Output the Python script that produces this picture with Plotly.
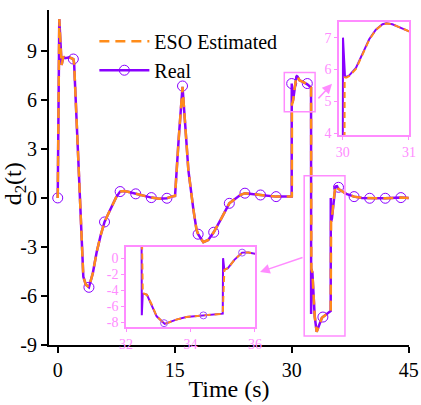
import plotly.graph_objects as go

# ---------------- data ----------------
t_real = [0.0, 0.2, 0.5, 0.72, 0.95, 1.5, 2.0, 2.1, 2.64, 3.28, 3.6, 3.92, 4.0, 4.5, 5.0, 5.5,
          6.0, 6.5, 7.0, 7.5, 8.0, 8.5, 9.0, 10.0, 11.0, 12.0, 13.0, 14.0, 14.6, 15.04, 15.5,
          16.0, 16.3, 16.75, 17.4, 17.8, 18.0, 18.67, 19.3, 20.0, 21.0, 22.0, 23.4, 24.0, 26.0,
          28.0, 30.0, 30.005, 30.035, 30.06, 30.1, 30.2, 30.3, 30.4, 30.5, 30.6, 30.66, 30.75,
          30.85, 31.0, 31.5, 32.0, 32.48, 32.49, 32.52, 32.65, 32.8, 32.95, 33.2, 33.56, 33.87,
          34.0, 34.4, 35.0, 35.01, 35.05, 35.16, 35.36, 35.6, 35.8, 36.0, 37.0, 38.0, 39.0,
          40.0, 42.0, 44.0, 45.0]
d_real = [0.0, 10.94, 8.14, 8.65, 8.55, 8.6, 8.5, 8.25, 2.33, -4.82, -5.3, -5.43, -5.47, -4.6,
          -3.3, -2.3, -1.47, -0.95, -0.45, 0.05, 0.39, 0.42, 0.38, 0.25, 0.12, 0.02, -0.05,
          -0.02, 0.08, 0.12, 3.55, 6.8, 4.78, 1.7, -0.73, -1.96, -2.22, -2.71, -2.57, -2.1,
          -1.24, -0.33, 0.18, 0.29, 0.18, 0.08, 0.08, 7.0, 5.8, 5.77, 5.82, 6.05, 6.5, 6.95,
          7.25, 7.42, 7.45, 7.42, 7.33, 7.2, 7.08, 6.95, 6.75, -7.1, -4.35, -4.56, -5.8, -7.25,
          -8.2, -7.66, -7.33, -7.29, -7.13, -6.92, 0.0, -1.45, -1.24, -0.2, 0.7, 0.72, 0.55,
          0.25, 0.08, 0.0, -0.02, -0.02, 0.02, 0.0]

t_est = [0.0, 0.2, 0.5, 0.72, 0.95, 1.5, 2.0, 2.1, 2.64, 3.28, 3.6, 3.92, 4.0, 4.5, 5.0, 5.5,
         6.0, 6.5, 7.0, 7.5, 8.0, 8.5, 9.0, 10.0, 11.0, 12.0, 13.0, 14.0, 14.6, 15.04, 15.5,
         16.0, 16.3, 16.75, 17.4, 17.8, 18.0, 18.67, 19.3, 20.0, 21.0, 22.0, 23.4, 24.0, 26.0,
         28.0, 30.0, 30.025, 30.03, 30.06, 30.1, 30.2, 30.3, 30.4, 30.5, 30.6, 30.66, 30.75,
         30.85, 31.0, 31.5, 32.0, 32.48, 32.52, 32.65, 32.8, 32.95, 33.2, 33.56, 33.87,
         34.0, 34.4, 35.0, 35.05, 35.16, 35.36, 35.6, 35.8, 36.0, 37.0, 38.0, 39.0,
         40.0, 42.0, 44.0, 45.0]
d_est = [0.0, 10.94, 8.14, 8.65, 8.55, 8.6, 8.5, 8.25, 2.33, -4.82, -5.3, -5.43, -5.47, -4.6,
         -3.3, -2.3, -1.47, -0.95, -0.45, 0.05, 0.39, 0.42, 0.38, 0.25, 0.12, 0.02, -0.05,
         -0.02, 0.08, 0.12, 3.55, 6.8, 4.78, 1.7, -0.73, -1.96, -2.22, -2.71, -2.57, -2.1,
         -1.24, -0.33, 0.18, 0.29, 0.18, 0.08, 0.08, 0.1, 5.75, 5.75, 5.8, 6.02, 6.47, 6.93,
         7.24, 7.41, 7.44, 7.42, 7.33, 7.2, 7.08, 6.95, 6.75, -4.35, -4.56, -5.8, -7.25,
         -8.2, -7.66, -7.33, -7.29, -7.13, -6.92, -1.45, -1.24, -0.2, 0.7, 0.72, 0.55,
         0.25, 0.08, 0.0, -0.02, -0.02, 0.02, 0.0]

# markers on the main plot (every 2 s)
t_mark = [0, 2, 4, 6, 8, 10, 12, 14, 16, 18, 20, 22, 24, 26, 28, 30, 32, 34, 36, 38, 40, 42, 44]
d_mark = [0.0, 8.5, -5.47, -1.47, 0.39, 0.25, 0.02, -0.02, 6.85, -2.22, -2.1, -0.33, 0.29,
          0.18, 0.08, 7.0, 7.0, -7.29, 0.65, 0.08, -0.02, -0.02, 0.02]
# markers in the lower inset
t_mark3 = [33.18, 34.4, 35.6]
d_mark3 = [-8.1, -7.13, 0.7]

x_ticks = [0, 15, 30, 45]
x_ticktext = ["0", "15", "30", "45"]
y_ticks = [-9, -6, -3, 0, 3, 6, 9]
y_ticktext = ["-9", "-6", "-3", "0", "3", "6", "9"]
x2_ticks = [30, 31]
y2_ticks = [4, 5, 6, 7]
x3_ticks = [32, 34, 36]
y3_ticks = [0, -2, -4, -6, -8]
y3_ticktext = ["0", "-2", "-4", "-6", "-8"]

# zoom rectangles in main-plot data coordinates
rect1 = [29.05, 5.27, 33.0, 7.67]
rect2 = [31.6, -8.45, 36.83, 1.35]

PURPLE = "#8A00FF"
ORANGE = "#FF8C1A"
PINK = "#FF8CFF"
FONT = "Liberation Serif"

fig = go.Figure()

# ---- main plot ----
fig.add_trace(go.Scatter(x=t_real, y=d_real, mode="lines", line=dict(color=PURPLE, width=2.5),
                         showlegend=False, xaxis="x", yaxis="y"))
fig.add_trace(go.Scatter(x=t_mark, y=d_mark, mode="markers",
                         marker=dict(symbol="circle-open", size=10, color=PURPLE, line=dict(width=1)),
                         showlegend=False, xaxis="x", yaxis="y"))
fig.add_trace(go.Scatter(x=t_est, y=d_est, mode="lines", name="ESO Estimated",
                         line=dict(color=ORANGE, width=2.5, dash="10px,6px"),
                         xaxis="x", yaxis="y"))
fig.add_trace(go.Scatter(x=[None], y=[None], mode="lines+markers", name="Real",
                         line=dict(color=PURPLE, width=2.5),
                         marker=dict(symbol="circle-open", size=10, color=PURPLE, line=dict(width=1)),
                         xaxis="x", yaxis="y"))

# ---- inset 1 ----
fig.add_trace(go.Scatter(x=t_real, y=d_real, mode="lines", line=dict(color=PURPLE, width=2),
                         showlegend=False, xaxis="x2", yaxis="y2"))
fig.add_trace(go.Scatter(x=t_est, y=d_est, mode="lines", line=dict(color=ORANGE, width=2, dash="6px,4px"),
                         showlegend=False, xaxis="x2", yaxis="y2"))

# ---- inset 2 ----
fig.add_trace(go.Scatter(x=t_real, y=d_real, mode="lines", line=dict(color=PURPLE, width=2),
                         showlegend=False, xaxis="x3", yaxis="y3"))
fig.add_trace(go.Scatter(x=t_est, y=d_est, mode="lines", line=dict(color=ORANGE, width=2, dash="6px,4px"),
                         showlegend=False, xaxis="x3", yaxis="y3"))
fig.add_trace(go.Scatter(x=t_mark3, y=d_mark3, mode="markers",
                         marker=dict(symbol="circle-open", size=7, color="#A050FF", line=dict(width=1)),
                         showlegend=False, xaxis="x3", yaxis="y3"))

main_ax = dict(showline=True, linecolor="black", linewidth=2, ticks="outside", ticklen=6,
               tickwidth=2, tickcolor="black", showgrid=False, zeroline=False, automargin=False,
               tickfont=dict(family=FONT, size=20, color="black"))
inset_ax = dict(showline=True, mirror=True, linecolor=PINK, linewidth=1.5, ticks="outside",
                ticklen=3, tickwidth=1, tickcolor=PINK, showgrid=False, zeroline=False,
                automargin=False, tickfont=dict(family=FONT, size=14, color=PINK))

fig.update_layout(
    width=421, height=405,
    margin=dict(l=49, r=12, t=10, b=60),
    paper_bgcolor="white", plot_bgcolor="white",
    font=dict(family=FONT, color="black"),
    xaxis=dict(main_ax, domain=[0, 1], range=[-1.12, 45.04], tickvals=x_ticks, ticktext=x_ticktext,
               title=dict(text="Time (s)", font=dict(family=FONT, size=24), standoff=0)),
    yaxis=dict(main_ax, domain=[0, 1], range=[-9, 11.5], tickvals=y_ticks, ticktext=y_ticktext),
    xaxis2=dict(inset_ax, domain=[0.8056, 1.0], range=[29.945, 31.0], tickvals=x2_ticks, anchor="y2"),
    yaxis2=dict(inset_ax, domain=[0.6269, 0.9642], range=[3.95, 7.49], tickvals=y2_ticks, anchor="x2"),
    xaxis3=dict(inset_ax, domain=[0.2139, 0.5722], range=[32, 36], tickvals=x3_ticks, anchor="y3"),
    yaxis3=dict(inset_ax, domain=[0.0537, 0.2925], range=[-8.58, 1.4], tickvals=y3_ticks,
                ticktext=y3_ticktext, anchor="x3"),
    legend=dict(x=0.126, y=0.965, xanchor="left", yanchor="top", bgcolor="rgba(0,0,0,0)",
                font=dict(family=FONT, size=20, color="black"), itemwidth=50, tracegroupgap=0),
    shapes=[
        dict(type="rect", xref="x", yref="y", x0=rect1[0], y0=rect1[1], x1=rect1[2], y1=rect1[3],
             line=dict(color=PINK, width=1.5)),
        dict(type="rect", xref="x", yref="y", x0=rect2[0], y0=rect2[1], x1=rect2[2], y1=rect2[3],
             line=dict(color=PINK, width=1.5)),
    ],
    annotations=[
        dict(text="d<sub>2</sub>(t)", xref="paper", yref="paper", x=-0.094, y=0.48,
             xanchor="center", yanchor="middle", textangle=-90, showarrow=False,
             font=dict(family=FONT, size=24, color="black")),
        dict(x=35.17, y=6.98, ax=33.24, ay=6.0, xref="x", yref="y", axref="x", ayref="y",
             showarrow=True, arrowhead=2, arrowsize=1.3, arrowwidth=1.5, arrowcolor=PINK, text=""),
        dict(x=25.94, y=-4.53, ax=31.58, ay=-3.61, xref="x", yref="y", axref="x", ayref="y",
             showarrow=True, arrowhead=2, arrowsize=1.3, arrowwidth=1.5, arrowcolor=PINK, text=""),
    ],
)

fig.write_html("out.html", post_script="document.body.style.margin='0';",
               config={"displayModeBar": False})
